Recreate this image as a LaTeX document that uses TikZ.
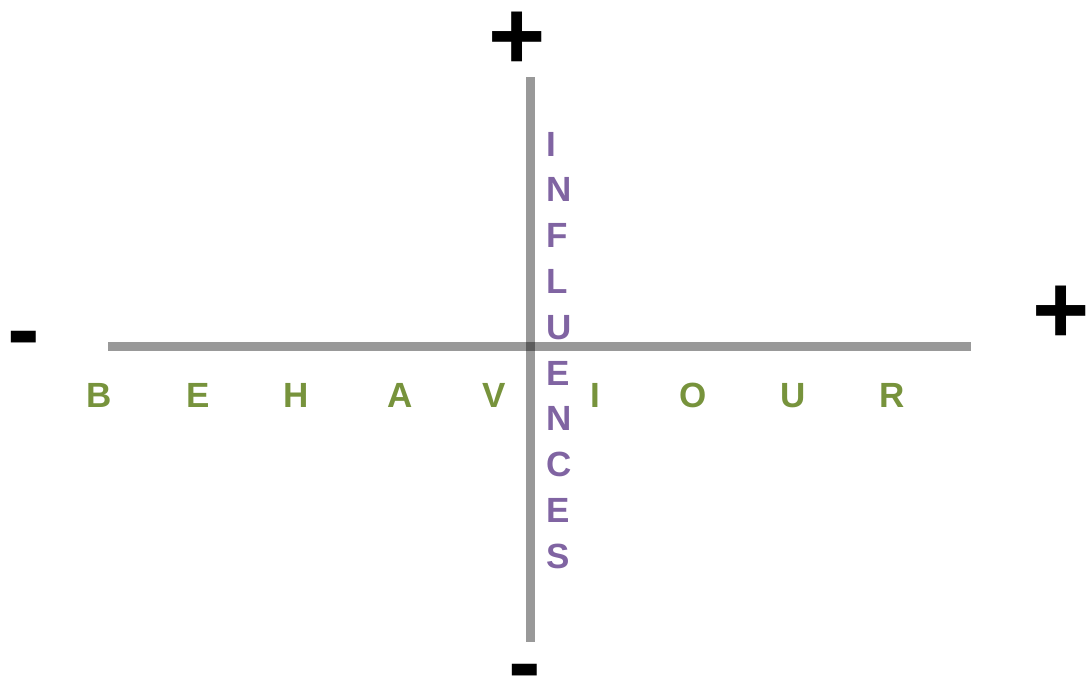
\documentclass[tikz,border=0pt]{standalone}
\usepackage{fontspec}
\setmainfont{Liberation Sans}
\definecolor{behgreen}{HTML}{77933C}
\definecolor{infpurple}{HTML}{8064A2}
\tikzset{
  axis/.style={draw=black, draw opacity=0.4, line width=9pt},
  sign/.style={inner sep=0pt, anchor=base, font=\fontsize{98}{100}\selectfont\bfseries, text=black},
  behletter/.style={inner sep=0pt, anchor=base, font=\fontsize{35}{40}\selectfont\bfseries, text=behgreen},
  infletter/.style={inner sep=0pt, anchor=base west, font=\fontsize{35}{40}\selectfont\bfseries, text=infpurple}
}
\begin{document}
\begin{tikzpicture}[x=1pt,y=-1pt]
\useasboundingbox (0,0) rectangle (1086,675);
% axes
\coordinate (hl) at (108,346.5);
\coordinate (hr) at (971,346.5);
\coordinate (vt) at (530.5,77);
\coordinate (vb) at (530.5,642);
\draw[axis] (hl) -- (hr);
\draw[axis] (vt) -- (vb);
% signs
\node[sign] (ptop) at (517,69) {+};
\node[sign] (pright) at (1061,343) {+};
\node[sign] (mleft) at (24,362.5) {-};
\node[sign] (mbot) at (525,695.5) {-};
% BEHAVIOUR
\foreach \l/\x [count=\i] in {B/99,E/198,H/296,A/400,V/494,I/595,O/693,U/793,R/892}
  \node[behletter] (b\i) at (\x,407) {\l};
% INFLUENCES
\foreach \l [count=\i] in {I,N,F,L,U,E,N,C,E,S}
  \node[infletter] (f\i) at (546,{156+(\i-1)*45.8}) {\l};
\end{tikzpicture}
\end{document}
